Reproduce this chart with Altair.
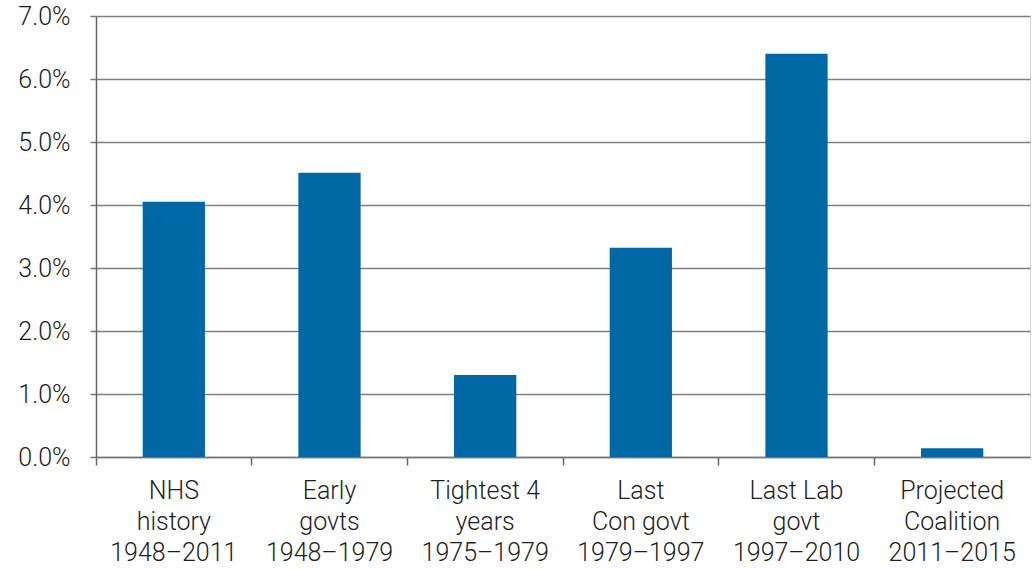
import altair as alt
import pandas as pd

categories = [
    "NHS|history|1948–2011",
    "Early|govts|1948–1979",
    "Tightest 4|years|1975–1979",
    "Last|Con govt|1979–1997",
    "Last Lab|govt|1997–2010",
    "Projected|Coalition|2011–2015",
]
growth = [0.0405, 0.0451, 0.0130, 0.0332, 0.0640, 0.0014]

df = pd.DataFrame({"period": categories, "growth": growth})

FONT = "Roboto"
WEIGHT = 300
TEXT = "#1e1e1e"

chart = (
    alt.Chart(df)
    .mark_bar(color="#0068a5", width={"band": 0.4})
    .encode(
        x=alt.X(
            "period:N",
            sort=None,
            title=None,
            scale=alt.Scale(paddingInner=0, paddingOuter=0),
            axis=alt.Axis(
                labelAngle=0,
                labelExpr="split(datum.label, '|')",
                labelFont=FONT,
                labelFontWeight=WEIGHT,
                labelFontSize=25,
                labelLineHeight=31,
                labelColor=TEXT,
                labelPadding=13,
                labelBaseline="top",
                bandPosition=0,
                tickSize=8,
                tickColor="#666666",
                tickWidth=1.5,
                domainColor="#777777",
                domainWidth=1.5,
                grid=False,
            ),
        ),
        y=alt.Y(
            "growth:Q",
            title=None,
            scale=alt.Scale(domain=[0, 0.07], nice=False),
            axis=alt.Axis(
                values=[0, 0.01, 0.02, 0.03, 0.04, 0.05, 0.06, 0.07],
                format=".1%",
                labelFont=FONT,
                labelFontWeight=WEIGHT,
                labelFontSize=25,
                labelColor=TEXT,
                labelPadding=20,
                tickSize=6,
                tickColor="#777777",
                tickWidth=1.5,
                domainColor="#666666",
                domainWidth=1.5,
                gridColor="#808080",
                gridWidth=1.5,
                gridOpacity=1,
            ),
        ),
    )
    .properties(
        width=934,
        height=441,
        autosize=alt.AutoSizeParams(type="none"),
        padding={"left": 96, "top": 16, "right": 3, "bottom": 113},
    )
    .configure_view(stroke=None)
    .configure(background="white")
)

chart.save("out.html", embed_options={"renderer": "svg", "actions": False})
